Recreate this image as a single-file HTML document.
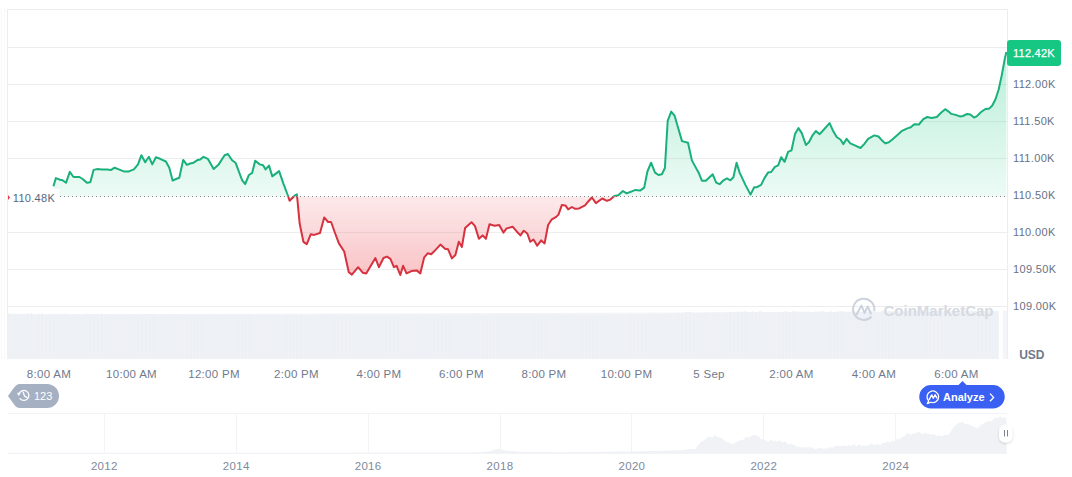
<!DOCTYPE html>
<html><head><meta charset="utf-8">
<style>
html,body{margin:0;padding:0;background:#fff;}
body{width:1072px;height:477px;overflow:hidden;position:relative;font-family:"Liberation Sans",Arial,sans-serif;}
svg{position:absolute;left:0;top:0;}
.yl text{font-size:11px;fill:#687184;letter-spacing:0.35px;}
.xl text{font-size:11.5px;fill:#717a8d;text-anchor:middle;letter-spacing:0.3px;}
.nl text{font-size:11.5px;fill:#808a9c;text-anchor:middle;letter-spacing:0.3px;}
</style></head><body>
<svg width="1072" height="477" viewBox="0 0 1072 477">
<defs>
<linearGradient id="gg" gradientUnits="userSpaceOnUse" x1="0" y1="52" x2="0" y2="196.5">
<stop offset="0" stop-color="#16c784" stop-opacity="0.3"/>
<stop offset="1" stop-color="#16c784" stop-opacity="0.08"/>
</linearGradient>
<linearGradient id="rg" gradientUnits="userSpaceOnUse" x1="0" y1="196.5" x2="0" y2="276">
<stop offset="0" stop-color="#ea3943" stop-opacity="0.11"/>
<stop offset="1" stop-color="#ea3943" stop-opacity="0.3"/>
</linearGradient>
<filter id="sh" x="-50%" y="-50%" width="200%" height="200%"><feDropShadow dx="0" dy="1" stdDeviation="1.2" flood-color="#000" flood-opacity="0.18"/></filter>
<clipPath id="cu"><rect x="0" y="0" width="1072" height="196.5"/></clipPath>
<clipPath id="cd"><rect x="0" y="196.5" width="1072" height="300"/></clipPath>
</defs>
<g stroke="#ededed" stroke-width="1" shape-rendering="crispEdges"><line x1="7" y1="9.5" x2="1008" y2="9.5"/><line x1="7" y1="47.5" x2="1008" y2="47.5"/><line x1="7" y1="84.5" x2="1008" y2="84.5"/><line x1="7" y1="121.5" x2="1008" y2="121.5"/><line x1="7" y1="158.5" x2="1008" y2="158.5"/><line x1="7" y1="232.5" x2="1008" y2="232.5"/><line x1="7" y1="269.5" x2="1008" y2="269.5"/><line x1="7" y1="306.5" x2="1008" y2="306.5"/>
<line x1="7.5" y1="9" x2="7.5" y2="359"/>
<line x1="1.5" y1="8" x2="1.5" y2="359" stroke="#f8f8f8"/>
<line x1="4.5" y1="8" x2="4.5" y2="359" stroke="#f8f8f8"/>
<line x1="1007.5" y1="9" x2="1007.5" y2="359"/>
</g>
<path d="M7.5,359 L7.5,314.6 L999,311.6 L999,359 Z" fill="#f2f4f7"/>
<g fill="#edf0f4"><rect x="7.50" y="313.5" width="3.1" height="45.5"/><rect x="11.20" y="313.9" width="3.1" height="45.1"/><rect x="14.90" y="313.7" width="3.1" height="45.3"/><rect x="18.60" y="313.9" width="3.1" height="45.1"/><rect x="22.30" y="314.0" width="3.1" height="45.0"/><rect x="26.00" y="313.4" width="3.1" height="45.6"/><rect x="29.70" y="313.4" width="3.1" height="45.6"/><rect x="33.40" y="314.2" width="3.1" height="44.8"/><rect x="37.10" y="313.7" width="3.1" height="45.3"/><rect x="40.80" y="313.6" width="3.1" height="45.4"/><rect x="44.50" y="314.4" width="3.1" height="44.6"/><rect x="48.20" y="313.9" width="3.1" height="45.1"/><rect x="51.90" y="314.3" width="3.1" height="44.7"/><rect x="55.60" y="313.9" width="3.1" height="45.1"/><rect x="59.30" y="314.1" width="3.1" height="44.9"/><rect x="63.00" y="313.6" width="3.1" height="45.4"/><rect x="66.70" y="314.1" width="3.1" height="44.9"/><rect x="70.40" y="314.4" width="3.1" height="44.6"/><rect x="74.10" y="314.1" width="3.1" height="44.9"/><rect x="77.80" y="314.3" width="3.1" height="44.7"/><rect x="81.50" y="314.2" width="3.1" height="44.8"/><rect x="85.20" y="313.6" width="3.1" height="45.4"/><rect x="88.90" y="314.3" width="3.1" height="44.7"/><rect x="92.60" y="314.2" width="3.1" height="44.8"/><rect x="96.30" y="313.9" width="3.1" height="45.1"/><rect x="100.00" y="313.6" width="3.1" height="45.4"/><rect x="103.70" y="314.5" width="3.1" height="44.5"/><rect x="107.40" y="314.1" width="3.1" height="44.9"/><rect x="111.10" y="314.4" width="3.1" height="44.6"/><rect x="114.80" y="314.5" width="3.1" height="44.5"/><rect x="118.50" y="314.4" width="3.1" height="44.6"/><rect x="122.20" y="314.6" width="3.1" height="44.4"/><rect x="125.90" y="314.1" width="3.1" height="44.9"/><rect x="129.60" y="314.5" width="3.1" height="44.5"/><rect x="133.30" y="314.2" width="3.1" height="44.8"/><rect x="137.00" y="314.7" width="3.1" height="44.3"/><rect x="140.70" y="314.6" width="3.1" height="44.4"/><rect x="144.40" y="313.9" width="3.1" height="45.1"/><rect x="148.10" y="313.9" width="3.1" height="45.1"/><rect x="151.80" y="314.0" width="3.1" height="45.0"/><rect x="155.50" y="314.8" width="3.1" height="44.2"/><rect x="159.20" y="314.3" width="3.1" height="44.7"/><rect x="162.90" y="314.5" width="3.1" height="44.5"/><rect x="166.60" y="314.1" width="3.1" height="44.9"/><rect x="170.30" y="314.4" width="3.1" height="44.6"/><rect x="174.00" y="314.3" width="3.1" height="44.7"/><rect x="177.70" y="314.2" width="3.1" height="44.8"/><rect x="181.40" y="314.5" width="3.1" height="44.5"/><rect x="185.10" y="314.5" width="3.1" height="44.5"/><rect x="188.80" y="314.8" width="3.1" height="44.2"/><rect x="192.50" y="314.6" width="3.1" height="44.4"/><rect x="196.20" y="314.9" width="3.1" height="44.1"/><rect x="199.90" y="314.8" width="3.1" height="44.2"/><rect x="203.60" y="315.0" width="3.1" height="44.0"/><rect x="207.30" y="314.7" width="3.1" height="44.3"/><rect x="211.00" y="314.2" width="3.1" height="44.8"/><rect x="214.70" y="314.9" width="3.1" height="44.1"/><rect x="218.40" y="315.0" width="3.1" height="44.0"/><rect x="222.10" y="314.9" width="3.1" height="44.1"/><rect x="225.80" y="314.6" width="3.1" height="44.4"/><rect x="229.50" y="314.8" width="3.1" height="44.2"/><rect x="233.20" y="314.3" width="3.1" height="44.7"/><rect x="236.90" y="314.9" width="3.1" height="44.1"/><rect x="240.60" y="314.7" width="3.1" height="44.3"/><rect x="244.30" y="314.4" width="3.1" height="44.6"/><rect x="248.00" y="314.2" width="3.1" height="44.8"/><rect x="251.70" y="315.0" width="3.1" height="44.0"/><rect x="255.40" y="315.1" width="3.1" height="43.9"/><rect x="259.10" y="314.2" width="3.1" height="44.8"/><rect x="262.80" y="315.0" width="3.1" height="44.0"/><rect x="266.50" y="314.6" width="3.1" height="44.4"/><rect x="270.20" y="314.3" width="3.1" height="44.7"/><rect x="273.90" y="314.5" width="3.1" height="44.5"/><rect x="277.60" y="315.0" width="3.1" height="44.0"/><rect x="281.30" y="315.1" width="3.1" height="43.9"/><rect x="285.00" y="314.3" width="3.1" height="44.7"/><rect x="288.70" y="314.9" width="3.1" height="44.1"/><rect x="292.40" y="314.3" width="3.1" height="44.7"/><rect x="296.10" y="315.0" width="3.1" height="44.0"/><rect x="299.80" y="314.6" width="3.1" height="44.4"/><rect x="303.50" y="315.2" width="3.1" height="43.8"/><rect x="307.20" y="315.3" width="3.1" height="43.7"/><rect x="310.90" y="314.8" width="3.1" height="44.2"/><rect x="314.60" y="315.3" width="3.1" height="43.7"/><rect x="318.30" y="314.6" width="3.1" height="44.4"/><rect x="322.00" y="314.3" width="3.1" height="44.7"/><rect x="325.70" y="314.9" width="3.1" height="44.1"/><rect x="329.40" y="314.3" width="3.1" height="44.7"/><rect x="333.10" y="314.4" width="3.1" height="44.6"/><rect x="336.80" y="314.7" width="3.1" height="44.3"/><rect x="340.50" y="314.8" width="3.1" height="44.2"/><rect x="344.20" y="314.4" width="3.1" height="44.6"/><rect x="347.90" y="314.3" width="3.1" height="44.7"/><rect x="351.60" y="315.1" width="3.1" height="43.9"/><rect x="355.30" y="314.5" width="3.1" height="44.5"/><rect x="359.00" y="315.2" width="3.1" height="43.8"/><rect x="362.70" y="315.1" width="3.1" height="43.9"/><rect x="366.40" y="314.6" width="3.1" height="44.4"/><rect x="370.10" y="314.7" width="3.1" height="44.3"/><rect x="373.80" y="314.7" width="3.1" height="44.3"/><rect x="377.50" y="314.8" width="3.1" height="44.2"/><rect x="381.20" y="314.8" width="3.1" height="44.2"/><rect x="384.90" y="314.7" width="3.1" height="44.3"/><rect x="388.60" y="314.8" width="3.1" height="44.2"/><rect x="392.30" y="315.1" width="3.1" height="43.9"/><rect x="396.00" y="314.7" width="3.1" height="44.3"/><rect x="399.70" y="314.6" width="3.1" height="44.4"/><rect x="403.40" y="314.9" width="3.1" height="44.1"/><rect x="407.10" y="314.4" width="3.1" height="44.6"/><rect x="410.80" y="314.4" width="3.1" height="44.6"/><rect x="414.50" y="315.1" width="3.1" height="43.9"/><rect x="418.20" y="314.6" width="3.1" height="44.4"/><rect x="421.90" y="314.7" width="3.1" height="44.3"/><rect x="425.60" y="314.1" width="3.1" height="44.9"/><rect x="429.30" y="314.5" width="3.1" height="44.5"/><rect x="433.00" y="314.7" width="3.1" height="44.3"/><rect x="436.70" y="314.1" width="3.1" height="44.9"/><rect x="440.40" y="314.7" width="3.1" height="44.3"/><rect x="444.10" y="314.7" width="3.1" height="44.3"/><rect x="447.80" y="314.1" width="3.1" height="44.9"/><rect x="451.50" y="314.7" width="3.1" height="44.3"/><rect x="455.20" y="314.5" width="3.1" height="44.5"/><rect x="458.90" y="314.7" width="3.1" height="44.3"/><rect x="462.60" y="314.4" width="3.1" height="44.6"/><rect x="466.30" y="314.8" width="3.1" height="44.2"/><rect x="470.00" y="314.8" width="3.1" height="44.2"/><rect x="473.70" y="314.1" width="3.1" height="44.9"/><rect x="477.40" y="314.1" width="3.1" height="44.9"/><rect x="481.10" y="314.7" width="3.1" height="44.3"/><rect x="484.80" y="315.0" width="3.1" height="44.0"/><rect x="488.50" y="314.3" width="3.1" height="44.7"/><rect x="492.20" y="314.5" width="3.1" height="44.5"/><rect x="495.90" y="314.6" width="3.1" height="44.4"/><rect x="499.60" y="314.3" width="3.1" height="44.7"/><rect x="503.30" y="314.4" width="3.1" height="44.6"/><rect x="507.00" y="314.3" width="3.1" height="44.7"/><rect x="510.70" y="314.4" width="3.1" height="44.6"/><rect x="514.40" y="314.6" width="3.1" height="44.4"/><rect x="518.10" y="314.3" width="3.1" height="44.7"/><rect x="521.80" y="314.4" width="3.1" height="44.6"/><rect x="525.50" y="314.8" width="3.1" height="44.2"/><rect x="529.20" y="314.0" width="3.1" height="45.0"/><rect x="532.90" y="314.6" width="3.1" height="44.4"/><rect x="536.60" y="314.7" width="3.1" height="44.3"/><rect x="540.30" y="314.3" width="3.1" height="44.7"/><rect x="544.00" y="314.2" width="3.1" height="44.8"/><rect x="547.70" y="314.8" width="3.1" height="44.2"/><rect x="551.40" y="314.2" width="3.1" height="44.8"/><rect x="555.10" y="314.2" width="3.1" height="44.8"/><rect x="558.80" y="314.4" width="3.1" height="44.6"/><rect x="562.50" y="314.7" width="3.1" height="44.3"/><rect x="566.20" y="314.1" width="3.1" height="44.9"/><rect x="569.90" y="314.3" width="3.1" height="44.7"/><rect x="573.60" y="314.3" width="3.1" height="44.7"/><rect x="577.30" y="314.8" width="3.1" height="44.2"/><rect x="581.00" y="314.4" width="3.1" height="44.6"/><rect x="584.70" y="314.9" width="3.1" height="44.1"/><rect x="588.40" y="314.2" width="3.1" height="44.8"/><rect x="592.10" y="314.3" width="3.1" height="44.7"/><rect x="595.80" y="314.7" width="3.1" height="44.3"/><rect x="599.50" y="314.9" width="3.1" height="44.1"/><rect x="603.20" y="314.5" width="3.1" height="44.5"/><rect x="606.90" y="314.2" width="3.1" height="44.8"/><rect x="610.60" y="314.1" width="3.1" height="44.9"/><rect x="614.30" y="314.5" width="3.1" height="44.5"/><rect x="618.00" y="314.2" width="3.1" height="44.8"/><rect x="621.70" y="314.8" width="3.1" height="44.2"/><rect x="625.40" y="314.8" width="3.1" height="44.2"/><rect x="629.10" y="314.2" width="3.1" height="44.8"/><rect x="632.80" y="314.3" width="3.1" height="44.7"/><rect x="636.50" y="314.8" width="3.1" height="44.2"/><rect x="640.20" y="314.6" width="3.1" height="44.4"/><rect x="643.90" y="314.8" width="3.1" height="44.2"/><rect x="647.60" y="314.3" width="3.1" height="44.7"/><rect x="651.30" y="314.1" width="3.1" height="44.9"/><rect x="655.00" y="314.3" width="3.1" height="44.7"/><rect x="658.70" y="314.8" width="3.1" height="44.2"/><rect x="662.40" y="314.0" width="3.1" height="45.0"/><rect x="666.10" y="313.7" width="3.1" height="45.3"/><rect x="669.80" y="313.4" width="3.1" height="45.6"/><rect x="673.50" y="313.1" width="3.1" height="45.9"/><rect x="677.20" y="312.7" width="3.1" height="46.3"/><rect x="680.90" y="312.9" width="3.1" height="46.1"/><rect x="684.60" y="312.1" width="3.1" height="46.9"/><rect x="688.30" y="311.9" width="3.1" height="47.1"/><rect x="692.00" y="312.8" width="3.1" height="46.2"/><rect x="695.70" y="312.7" width="3.1" height="46.3"/><rect x="699.40" y="312.8" width="3.1" height="46.2"/><rect x="703.10" y="312.2" width="3.1" height="46.8"/><rect x="706.80" y="312.7" width="3.1" height="46.3"/><rect x="710.50" y="312.6" width="3.1" height="46.4"/><rect x="714.20" y="311.9" width="3.1" height="47.1"/><rect x="717.90" y="312.4" width="3.1" height="46.6"/><rect x="721.60" y="312.4" width="3.1" height="46.6"/><rect x="725.30" y="312.2" width="3.1" height="46.8"/><rect x="729.00" y="312.0" width="3.1" height="47.0"/><rect x="732.70" y="311.8" width="3.1" height="47.2"/><rect x="736.40" y="311.8" width="3.1" height="47.2"/><rect x="740.10" y="311.6" width="3.1" height="47.4"/><rect x="743.80" y="311.4" width="3.1" height="47.6"/><rect x="747.50" y="311.9" width="3.1" height="47.1"/><rect x="751.20" y="311.6" width="3.1" height="47.4"/><rect x="754.90" y="312.1" width="3.1" height="46.9"/><rect x="758.60" y="311.3" width="3.1" height="47.7"/><rect x="762.30" y="312.2" width="3.1" height="46.8"/><rect x="766.00" y="311.9" width="3.1" height="47.1"/><rect x="769.70" y="312.1" width="3.1" height="46.9"/><rect x="773.40" y="312.1" width="3.1" height="46.9"/><rect x="777.10" y="312.1" width="3.1" height="46.9"/><rect x="780.80" y="311.8" width="3.1" height="47.2"/><rect x="784.50" y="311.2" width="3.1" height="47.8"/><rect x="788.20" y="311.9" width="3.1" height="47.1"/><rect x="791.90" y="311.3" width="3.1" height="47.7"/><rect x="795.60" y="311.4" width="3.1" height="47.6"/><rect x="799.30" y="311.8" width="3.1" height="47.2"/><rect x="803.00" y="311.6" width="3.1" height="47.4"/><rect x="806.70" y="311.5" width="3.1" height="47.5"/><rect x="810.40" y="312.0" width="3.1" height="47.0"/><rect x="814.10" y="311.7" width="3.1" height="47.3"/><rect x="817.80" y="311.4" width="3.1" height="47.6"/><rect x="821.50" y="311.3" width="3.1" height="47.7"/><rect x="825.20" y="311.9" width="3.1" height="47.1"/><rect x="828.90" y="311.5" width="3.1" height="47.5"/><rect x="832.60" y="311.8" width="3.1" height="47.2"/><rect x="836.30" y="311.3" width="3.1" height="47.7"/><rect x="840.00" y="311.1" width="3.1" height="47.9"/><rect x="843.70" y="311.5" width="3.1" height="47.5"/><rect x="847.40" y="311.7" width="3.1" height="47.3"/><rect x="851.10" y="311.1" width="3.1" height="47.9"/><rect x="854.80" y="311.7" width="3.1" height="47.3"/><rect x="858.50" y="311.8" width="3.1" height="47.2"/><rect x="862.20" y="311.7" width="3.1" height="47.3"/><rect x="865.90" y="311.7" width="3.1" height="47.3"/><rect x="869.60" y="310.8" width="3.1" height="48.2"/><rect x="873.30" y="311.4" width="3.1" height="47.6"/><rect x="877.00" y="311.7" width="3.1" height="47.3"/><rect x="880.70" y="310.8" width="3.1" height="48.2"/><rect x="884.40" y="311.0" width="3.1" height="48.0"/><rect x="888.10" y="311.0" width="3.1" height="48.0"/><rect x="891.80" y="311.3" width="3.1" height="47.7"/><rect x="895.50" y="311.1" width="3.1" height="47.9"/><rect x="899.20" y="311.2" width="3.1" height="47.8"/><rect x="902.90" y="311.5" width="3.1" height="47.5"/><rect x="906.60" y="310.7" width="3.1" height="48.3"/><rect x="910.30" y="310.7" width="3.1" height="48.3"/><rect x="914.00" y="310.8" width="3.1" height="48.2"/><rect x="917.70" y="310.8" width="3.1" height="48.2"/><rect x="921.40" y="310.7" width="3.1" height="48.3"/><rect x="925.10" y="311.6" width="3.1" height="47.4"/><rect x="928.80" y="311.4" width="3.1" height="47.6"/><rect x="932.50" y="310.7" width="3.1" height="48.3"/><rect x="936.20" y="311.1" width="3.1" height="47.9"/><rect x="939.90" y="310.9" width="3.1" height="48.1"/><rect x="943.60" y="310.8" width="3.1" height="48.2"/><rect x="947.30" y="310.9" width="3.1" height="48.1"/><rect x="951.00" y="311.1" width="3.1" height="47.9"/><rect x="954.70" y="311.1" width="3.1" height="47.9"/><rect x="958.40" y="310.8" width="3.1" height="48.2"/><rect x="962.10" y="310.6" width="3.1" height="48.4"/><rect x="965.80" y="310.8" width="3.1" height="48.2"/><rect x="969.50" y="310.5" width="3.1" height="48.5"/><rect x="973.20" y="311.0" width="3.1" height="48.0"/><rect x="976.90" y="311.1" width="3.1" height="47.9"/><rect x="980.60" y="310.8" width="3.1" height="48.2"/><rect x="984.30" y="310.4" width="3.1" height="48.6"/><rect x="988.00" y="310.5" width="3.1" height="48.5"/><rect x="991.70" y="310.7" width="3.1" height="48.3"/><rect x="995.40" y="310.9" width="3.1" height="48.1"/><rect x="1002.7" y="310.5" width="4.5" height="48.5" fill="#f3f5f8"/></g>
<path d="M53.4,186.2 L55.9,178.1 L60.1,179.8 L62.6,180.3 L66.0,182.8 L69.8,171.9 L73.5,177.0 L79.4,177.0 L82.7,179.0 L86.9,182.8 L90.3,182.3 L93.6,169.9 L97.0,169.1 L102.0,169.6 L107.0,169.6 L111.2,169.9 L114.6,167.7 L118.8,169.4 L123.8,171.4 L128.8,171.4 L133.9,169.4 L138.0,164.4 L141.4,155.2 L145.2,162.2 L148.9,156.8 L152.3,164.4 L155.9,157.3 L160.1,158.8 L165.9,161.5 L169.3,167.7 L172.6,180.6 L176.0,179.0 L179.3,177.8 L183.2,159.9 L186.9,164.9 L190.2,163.5 L193.6,162.7 L197.8,159.9 L200.3,159.4 L203.6,156.8 L207.8,158.8 L213.7,168.9 L218.7,164.4 L224.6,155.2 L227.9,154.0 L232.1,160.2 L235.5,162.7 L242.2,180.3 L245.2,184.0 L248.9,175.0 L252.2,172.8 L255.2,160.7 L259.8,164.4 L263.1,165.2 L265.6,169.4 L269.0,165.6 L272.3,176.4 L279.1,171.1 L283.5,183.8 L287.9,195.5 L289.6,200.8 L294.6,195.7 L296.9,194.3 L299.7,223.8 L303.4,241.8 L306.8,244.1 L310.8,234.2 L314.2,234.9 L320.0,233.0 L324.2,217.4 L328.1,222.0 L331.1,222.0 L335.0,233.0 L338.9,243.4 L344.2,251.5 L348.8,272.2 L351.9,274.6 L358.1,267.2 L362.7,272.7 L366.2,273.4 L375.4,258.0 L378.9,267.2 L383.5,258.0 L386.9,256.6 L390.4,258.9 L393.9,267.2 L396.6,265.8 L400.3,275.0 L403.1,265.8 L406.5,273.4 L411.5,271.1 L416.6,270.4 L420.3,273.4 L424.2,257.3 L427.7,253.3 L431.2,254.3 L435.8,249.6 L440.4,244.6 L445.0,248.7 L448.0,249.2 L451.9,258.4 L455.4,255.0 L458.8,241.8 L461.9,246.9 L465.1,228.0 L471.5,222.2 L475.0,226.1 L478.9,238.8 L482.6,235.4 L485.9,238.8 L489.5,224.3 L494.6,225.7 L499.2,225.0 L503.4,232.6 L506.6,228.4 L512.8,226.8 L516.5,231.2 L520.4,235.4 L523.8,230.7 L527.3,233.5 L530.3,241.8 L533.5,239.5 L537.2,245.7 L541.2,240.4 L544.6,243.4 L548.1,225.0 L551.5,219.7 L556.2,216.9 L558.5,214.6 L561.9,204.9 L565.4,205.4 L568.2,209.3 L571.9,207.0 L575.1,208.8 L579.2,208.4 L585.0,205.4 L588.5,201.2 L591.9,197.5 L595.9,203.1 L602.3,198.5 L606.9,200.8 L610.4,199.6 L614.3,196.1 L618.3,195.3 L622.9,191.0 L626.6,193.4 L630.8,191.8 L635.4,189.9 L640.0,190.6 L644.2,187.6 L647.4,171.5 L651.1,162.7 L655.0,172.6 L658.5,175.0 L661.9,174.3 L664.9,168.0 L667.7,120.8 L671.2,111.6 L674.6,115.7 L678.1,127.7 L682.0,141.1 L688.0,142.7 L691.9,160.4 L695.4,166.9 L698.9,173.3 L701.9,180.7 L705.8,180.7 L712.7,174.3 L716.2,182.6 L719.6,184.2 L723.5,180.3 L726.9,178.4 L730.4,180.3 L733.4,177.3 L736.6,162.7 L739.6,172.6 L745.4,184.9 L750.5,194.6 L754.2,187.2 L756.9,187.2 L761.1,184.9 L764.3,178.4 L768.0,172.6 L771.2,172.0 L774.9,166.9 L778.2,165.3 L781.2,157.2 L784.6,161.8 L788.1,151.9 L791.5,150.3 L795.0,134.1 L798.5,128.1 L801.9,133.4 L805.9,145.0 L808.9,142.2 L812.3,135.7 L815.8,131.1 L819.7,134.1 L823.9,129.5 L829.6,123.1 L833.3,131.3 L836.7,137.0 L840.4,139.5 L843.4,144.1 L846.6,138.8 L850.3,143.4 L855.4,145.7 L860.5,148.0 L864.2,144.1 L868.1,138.8 L874.3,135.4 L878.5,136.5 L882.6,141.1 L885.4,143.4 L888.8,142.3 L892.3,139.5 L896.9,135.4 L901.5,131.2 L907.3,128.4 L910.8,127.3 L914.2,124.3 L918.9,124.5 L923.3,119.1 L927.3,117.0 L931.5,118.0 L936.8,117.0 L941.0,112.8 L945.2,109.2 L948.3,111.3 L951.4,113.9 L955.6,114.9 L959.8,116.4 L963.0,116.0 L967.2,113.9 L970.3,114.5 L974.1,117.6 L976.6,116.4 L980.8,112.2 L985.0,109.2 L989.2,108.6 L992.3,105.5 L995.5,99.2 L998.6,89.7 L1001.8,75.1 L1004.9,58.3 L1006.4,52.0 L1006.4,196.5 L53.4,196.5 Z" fill="url(#gg)" clip-path="url(#cu)"/>
<path d="M53.4,186.2 L55.9,178.1 L60.1,179.8 L62.6,180.3 L66.0,182.8 L69.8,171.9 L73.5,177.0 L79.4,177.0 L82.7,179.0 L86.9,182.8 L90.3,182.3 L93.6,169.9 L97.0,169.1 L102.0,169.6 L107.0,169.6 L111.2,169.9 L114.6,167.7 L118.8,169.4 L123.8,171.4 L128.8,171.4 L133.9,169.4 L138.0,164.4 L141.4,155.2 L145.2,162.2 L148.9,156.8 L152.3,164.4 L155.9,157.3 L160.1,158.8 L165.9,161.5 L169.3,167.7 L172.6,180.6 L176.0,179.0 L179.3,177.8 L183.2,159.9 L186.9,164.9 L190.2,163.5 L193.6,162.7 L197.8,159.9 L200.3,159.4 L203.6,156.8 L207.8,158.8 L213.7,168.9 L218.7,164.4 L224.6,155.2 L227.9,154.0 L232.1,160.2 L235.5,162.7 L242.2,180.3 L245.2,184.0 L248.9,175.0 L252.2,172.8 L255.2,160.7 L259.8,164.4 L263.1,165.2 L265.6,169.4 L269.0,165.6 L272.3,176.4 L279.1,171.1 L283.5,183.8 L287.9,195.5 L289.6,200.8 L294.6,195.7 L296.9,194.3 L299.7,223.8 L303.4,241.8 L306.8,244.1 L310.8,234.2 L314.2,234.9 L320.0,233.0 L324.2,217.4 L328.1,222.0 L331.1,222.0 L335.0,233.0 L338.9,243.4 L344.2,251.5 L348.8,272.2 L351.9,274.6 L358.1,267.2 L362.7,272.7 L366.2,273.4 L375.4,258.0 L378.9,267.2 L383.5,258.0 L386.9,256.6 L390.4,258.9 L393.9,267.2 L396.6,265.8 L400.3,275.0 L403.1,265.8 L406.5,273.4 L411.5,271.1 L416.6,270.4 L420.3,273.4 L424.2,257.3 L427.7,253.3 L431.2,254.3 L435.8,249.6 L440.4,244.6 L445.0,248.7 L448.0,249.2 L451.9,258.4 L455.4,255.0 L458.8,241.8 L461.9,246.9 L465.1,228.0 L471.5,222.2 L475.0,226.1 L478.9,238.8 L482.6,235.4 L485.9,238.8 L489.5,224.3 L494.6,225.7 L499.2,225.0 L503.4,232.6 L506.6,228.4 L512.8,226.8 L516.5,231.2 L520.4,235.4 L523.8,230.7 L527.3,233.5 L530.3,241.8 L533.5,239.5 L537.2,245.7 L541.2,240.4 L544.6,243.4 L548.1,225.0 L551.5,219.7 L556.2,216.9 L558.5,214.6 L561.9,204.9 L565.4,205.4 L568.2,209.3 L571.9,207.0 L575.1,208.8 L579.2,208.4 L585.0,205.4 L588.5,201.2 L591.9,197.5 L595.9,203.1 L602.3,198.5 L606.9,200.8 L610.4,199.6 L614.3,196.1 L618.3,195.3 L622.9,191.0 L626.6,193.4 L630.8,191.8 L635.4,189.9 L640.0,190.6 L644.2,187.6 L647.4,171.5 L651.1,162.7 L655.0,172.6 L658.5,175.0 L661.9,174.3 L664.9,168.0 L667.7,120.8 L671.2,111.6 L674.6,115.7 L678.1,127.7 L682.0,141.1 L688.0,142.7 L691.9,160.4 L695.4,166.9 L698.9,173.3 L701.9,180.7 L705.8,180.7 L712.7,174.3 L716.2,182.6 L719.6,184.2 L723.5,180.3 L726.9,178.4 L730.4,180.3 L733.4,177.3 L736.6,162.7 L739.6,172.6 L745.4,184.9 L750.5,194.6 L754.2,187.2 L756.9,187.2 L761.1,184.9 L764.3,178.4 L768.0,172.6 L771.2,172.0 L774.9,166.9 L778.2,165.3 L781.2,157.2 L784.6,161.8 L788.1,151.9 L791.5,150.3 L795.0,134.1 L798.5,128.1 L801.9,133.4 L805.9,145.0 L808.9,142.2 L812.3,135.7 L815.8,131.1 L819.7,134.1 L823.9,129.5 L829.6,123.1 L833.3,131.3 L836.7,137.0 L840.4,139.5 L843.4,144.1 L846.6,138.8 L850.3,143.4 L855.4,145.7 L860.5,148.0 L864.2,144.1 L868.1,138.8 L874.3,135.4 L878.5,136.5 L882.6,141.1 L885.4,143.4 L888.8,142.3 L892.3,139.5 L896.9,135.4 L901.5,131.2 L907.3,128.4 L910.8,127.3 L914.2,124.3 L918.9,124.5 L923.3,119.1 L927.3,117.0 L931.5,118.0 L936.8,117.0 L941.0,112.8 L945.2,109.2 L948.3,111.3 L951.4,113.9 L955.6,114.9 L959.8,116.4 L963.0,116.0 L967.2,113.9 L970.3,114.5 L974.1,117.6 L976.6,116.4 L980.8,112.2 L985.0,109.2 L989.2,108.6 L992.3,105.5 L995.5,99.2 L998.6,89.7 L1001.8,75.1 L1004.9,58.3 L1006.4,52.0 L1006.4,196.5 L53.4,196.5 Z" fill="url(#rg)" clip-path="url(#cd)"/>
<line x1="12" y1="196.5" x2="1006" y2="196.5" stroke="#7f828b" stroke-width="1" stroke-dasharray="1 3"/>
<path d="M53.4,186.2 L55.9,178.1 L60.1,179.8 L62.6,180.3 L66.0,182.8 L69.8,171.9 L73.5,177.0 L79.4,177.0 L82.7,179.0 L86.9,182.8 L90.3,182.3 L93.6,169.9 L97.0,169.1 L102.0,169.6 L107.0,169.6 L111.2,169.9 L114.6,167.7 L118.8,169.4 L123.8,171.4 L128.8,171.4 L133.9,169.4 L138.0,164.4 L141.4,155.2 L145.2,162.2 L148.9,156.8 L152.3,164.4 L155.9,157.3 L160.1,158.8 L165.9,161.5 L169.3,167.7 L172.6,180.6 L176.0,179.0 L179.3,177.8 L183.2,159.9 L186.9,164.9 L190.2,163.5 L193.6,162.7 L197.8,159.9 L200.3,159.4 L203.6,156.8 L207.8,158.8 L213.7,168.9 L218.7,164.4 L224.6,155.2 L227.9,154.0 L232.1,160.2 L235.5,162.7 L242.2,180.3 L245.2,184.0 L248.9,175.0 L252.2,172.8 L255.2,160.7 L259.8,164.4 L263.1,165.2 L265.6,169.4 L269.0,165.6 L272.3,176.4 L279.1,171.1 L283.5,183.8 L287.9,195.5 L289.6,200.8 L294.6,195.7 L296.9,194.3 L299.7,223.8 L303.4,241.8 L306.8,244.1 L310.8,234.2 L314.2,234.9 L320.0,233.0 L324.2,217.4 L328.1,222.0 L331.1,222.0 L335.0,233.0 L338.9,243.4 L344.2,251.5 L348.8,272.2 L351.9,274.6 L358.1,267.2 L362.7,272.7 L366.2,273.4 L375.4,258.0 L378.9,267.2 L383.5,258.0 L386.9,256.6 L390.4,258.9 L393.9,267.2 L396.6,265.8 L400.3,275.0 L403.1,265.8 L406.5,273.4 L411.5,271.1 L416.6,270.4 L420.3,273.4 L424.2,257.3 L427.7,253.3 L431.2,254.3 L435.8,249.6 L440.4,244.6 L445.0,248.7 L448.0,249.2 L451.9,258.4 L455.4,255.0 L458.8,241.8 L461.9,246.9 L465.1,228.0 L471.5,222.2 L475.0,226.1 L478.9,238.8 L482.6,235.4 L485.9,238.8 L489.5,224.3 L494.6,225.7 L499.2,225.0 L503.4,232.6 L506.6,228.4 L512.8,226.8 L516.5,231.2 L520.4,235.4 L523.8,230.7 L527.3,233.5 L530.3,241.8 L533.5,239.5 L537.2,245.7 L541.2,240.4 L544.6,243.4 L548.1,225.0 L551.5,219.7 L556.2,216.9 L558.5,214.6 L561.9,204.9 L565.4,205.4 L568.2,209.3 L571.9,207.0 L575.1,208.8 L579.2,208.4 L585.0,205.4 L588.5,201.2 L591.9,197.5 L595.9,203.1 L602.3,198.5 L606.9,200.8 L610.4,199.6 L614.3,196.1 L618.3,195.3 L622.9,191.0 L626.6,193.4 L630.8,191.8 L635.4,189.9 L640.0,190.6 L644.2,187.6 L647.4,171.5 L651.1,162.7 L655.0,172.6 L658.5,175.0 L661.9,174.3 L664.9,168.0 L667.7,120.8 L671.2,111.6 L674.6,115.7 L678.1,127.7 L682.0,141.1 L688.0,142.7 L691.9,160.4 L695.4,166.9 L698.9,173.3 L701.9,180.7 L705.8,180.7 L712.7,174.3 L716.2,182.6 L719.6,184.2 L723.5,180.3 L726.9,178.4 L730.4,180.3 L733.4,177.3 L736.6,162.7 L739.6,172.6 L745.4,184.9 L750.5,194.6 L754.2,187.2 L756.9,187.2 L761.1,184.9 L764.3,178.4 L768.0,172.6 L771.2,172.0 L774.9,166.9 L778.2,165.3 L781.2,157.2 L784.6,161.8 L788.1,151.9 L791.5,150.3 L795.0,134.1 L798.5,128.1 L801.9,133.4 L805.9,145.0 L808.9,142.2 L812.3,135.7 L815.8,131.1 L819.7,134.1 L823.9,129.5 L829.6,123.1 L833.3,131.3 L836.7,137.0 L840.4,139.5 L843.4,144.1 L846.6,138.8 L850.3,143.4 L855.4,145.7 L860.5,148.0 L864.2,144.1 L868.1,138.8 L874.3,135.4 L878.5,136.5 L882.6,141.1 L885.4,143.4 L888.8,142.3 L892.3,139.5 L896.9,135.4 L901.5,131.2 L907.3,128.4 L910.8,127.3 L914.2,124.3 L918.9,124.5 L923.3,119.1 L927.3,117.0 L931.5,118.0 L936.8,117.0 L941.0,112.8 L945.2,109.2 L948.3,111.3 L951.4,113.9 L955.6,114.9 L959.8,116.4 L963.0,116.0 L967.2,113.9 L970.3,114.5 L974.1,117.6 L976.6,116.4 L980.8,112.2 L985.0,109.2 L989.2,108.6 L992.3,105.5 L995.5,99.2 L998.6,89.7 L1001.8,75.1 L1004.9,58.3 L1006.4,52.0" fill="none" stroke="#1ab07b" stroke-width="2" stroke-linejoin="round" clip-path="url(#cu)"/>
<path d="M53.4,186.2 L55.9,178.1 L60.1,179.8 L62.6,180.3 L66.0,182.8 L69.8,171.9 L73.5,177.0 L79.4,177.0 L82.7,179.0 L86.9,182.8 L90.3,182.3 L93.6,169.9 L97.0,169.1 L102.0,169.6 L107.0,169.6 L111.2,169.9 L114.6,167.7 L118.8,169.4 L123.8,171.4 L128.8,171.4 L133.9,169.4 L138.0,164.4 L141.4,155.2 L145.2,162.2 L148.9,156.8 L152.3,164.4 L155.9,157.3 L160.1,158.8 L165.9,161.5 L169.3,167.7 L172.6,180.6 L176.0,179.0 L179.3,177.8 L183.2,159.9 L186.9,164.9 L190.2,163.5 L193.6,162.7 L197.8,159.9 L200.3,159.4 L203.6,156.8 L207.8,158.8 L213.7,168.9 L218.7,164.4 L224.6,155.2 L227.9,154.0 L232.1,160.2 L235.5,162.7 L242.2,180.3 L245.2,184.0 L248.9,175.0 L252.2,172.8 L255.2,160.7 L259.8,164.4 L263.1,165.2 L265.6,169.4 L269.0,165.6 L272.3,176.4 L279.1,171.1 L283.5,183.8 L287.9,195.5 L289.6,200.8 L294.6,195.7 L296.9,194.3 L299.7,223.8 L303.4,241.8 L306.8,244.1 L310.8,234.2 L314.2,234.9 L320.0,233.0 L324.2,217.4 L328.1,222.0 L331.1,222.0 L335.0,233.0 L338.9,243.4 L344.2,251.5 L348.8,272.2 L351.9,274.6 L358.1,267.2 L362.7,272.7 L366.2,273.4 L375.4,258.0 L378.9,267.2 L383.5,258.0 L386.9,256.6 L390.4,258.9 L393.9,267.2 L396.6,265.8 L400.3,275.0 L403.1,265.8 L406.5,273.4 L411.5,271.1 L416.6,270.4 L420.3,273.4 L424.2,257.3 L427.7,253.3 L431.2,254.3 L435.8,249.6 L440.4,244.6 L445.0,248.7 L448.0,249.2 L451.9,258.4 L455.4,255.0 L458.8,241.8 L461.9,246.9 L465.1,228.0 L471.5,222.2 L475.0,226.1 L478.9,238.8 L482.6,235.4 L485.9,238.8 L489.5,224.3 L494.6,225.7 L499.2,225.0 L503.4,232.6 L506.6,228.4 L512.8,226.8 L516.5,231.2 L520.4,235.4 L523.8,230.7 L527.3,233.5 L530.3,241.8 L533.5,239.5 L537.2,245.7 L541.2,240.4 L544.6,243.4 L548.1,225.0 L551.5,219.7 L556.2,216.9 L558.5,214.6 L561.9,204.9 L565.4,205.4 L568.2,209.3 L571.9,207.0 L575.1,208.8 L579.2,208.4 L585.0,205.4 L588.5,201.2 L591.9,197.5 L595.9,203.1 L602.3,198.5 L606.9,200.8 L610.4,199.6 L614.3,196.1 L618.3,195.3 L622.9,191.0 L626.6,193.4 L630.8,191.8 L635.4,189.9 L640.0,190.6 L644.2,187.6 L647.4,171.5 L651.1,162.7 L655.0,172.6 L658.5,175.0 L661.9,174.3 L664.9,168.0 L667.7,120.8 L671.2,111.6 L674.6,115.7 L678.1,127.7 L682.0,141.1 L688.0,142.7 L691.9,160.4 L695.4,166.9 L698.9,173.3 L701.9,180.7 L705.8,180.7 L712.7,174.3 L716.2,182.6 L719.6,184.2 L723.5,180.3 L726.9,178.4 L730.4,180.3 L733.4,177.3 L736.6,162.7 L739.6,172.6 L745.4,184.9 L750.5,194.6 L754.2,187.2 L756.9,187.2 L761.1,184.9 L764.3,178.4 L768.0,172.6 L771.2,172.0 L774.9,166.9 L778.2,165.3 L781.2,157.2 L784.6,161.8 L788.1,151.9 L791.5,150.3 L795.0,134.1 L798.5,128.1 L801.9,133.4 L805.9,145.0 L808.9,142.2 L812.3,135.7 L815.8,131.1 L819.7,134.1 L823.9,129.5 L829.6,123.1 L833.3,131.3 L836.7,137.0 L840.4,139.5 L843.4,144.1 L846.6,138.8 L850.3,143.4 L855.4,145.7 L860.5,148.0 L864.2,144.1 L868.1,138.8 L874.3,135.4 L878.5,136.5 L882.6,141.1 L885.4,143.4 L888.8,142.3 L892.3,139.5 L896.9,135.4 L901.5,131.2 L907.3,128.4 L910.8,127.3 L914.2,124.3 L918.9,124.5 L923.3,119.1 L927.3,117.0 L931.5,118.0 L936.8,117.0 L941.0,112.8 L945.2,109.2 L948.3,111.3 L951.4,113.9 L955.6,114.9 L959.8,116.4 L963.0,116.0 L967.2,113.9 L970.3,114.5 L974.1,117.6 L976.6,116.4 L980.8,112.2 L985.0,109.2 L989.2,108.6 L992.3,105.5 L995.5,99.2 L998.6,89.7 L1001.8,75.1 L1004.9,58.3 L1006.4,52.0" fill="none" stroke="#d6323f" stroke-width="2" stroke-linejoin="round" clip-path="url(#cd)"/>
<!-- watermark -->
<g>
<path d="M871.5,316.5 A10.6,10.6 0 1 1 874.2,311" fill="none" stroke="#cdd3dd" stroke-width="2"/>
<path d="M856.5,314.5 L861.5,305.5 L864.5,313 L867.8,306.5 L870.8,313.5" fill="none" stroke="#cdd3dd" stroke-width="2" stroke-linejoin="round" stroke-linecap="round"/>
<text x="883.5" y="316" font-size="15" font-weight="bold" fill="#d6dae2" letter-spacing="0">CoinMarketCap</text>
</g>
<g class="yl"><text x="1013" y="88">112.00K</text><text x="1013" y="125">111.50K</text><text x="1013" y="162">111.00K</text><text x="1013" y="199">110.50K</text><text x="1013" y="236">110.00K</text><text x="1013" y="273">109.50K</text><text x="1013" y="310">109.00K</text></g>
<text x="1019.2" y="359" font-size="12" font-weight="bold" fill="#6f788a">USD</text>
<g class="xl"><text x="49.0" y="378">8:00 AM</text><text x="131.5" y="378">10:00 AM</text><text x="214.0" y="378">12:00 PM</text><text x="296.5" y="378">2:00 PM</text><text x="379.0" y="378">4:00 PM</text><text x="461.5" y="378">6:00 PM</text><text x="544.0" y="378">8:00 PM</text><text x="626.5" y="378">10:00 PM</text><text x="709.0" y="378">5 Sep</text><text x="791.5" y="378">2:00 AM</text><text x="874.0" y="378">4:00 AM</text><text x="956.5" y="378">6:00 AM</text></g>
<!-- last price badge -->
<rect x="1007" y="40" width="54" height="26" rx="3" fill="#16c784"/>
<text x="1013" y="57" font-size="11" fill="#fff" stroke="#fff" stroke-width="0.25" letter-spacing="0.25">112.42K</text>
<!-- left label -->
<rect x="10" y="189" width="49.5" height="15" fill="#fff"/>
<text x="12.8" y="202" font-size="11" fill="#58667e" letter-spacing="0.3">110.48K</text>
<path d="M8,195 L10,197.5 L8,200 Z" fill="#ea3943"/>
<!-- navigator -->
<g stroke="#f2f3f6" stroke-width="1" shape-rendering="crispEdges">
<line x1="8" y1="413.5" x2="1007" y2="413.5"/>
<line x1="8" y1="453.5" x2="1007" y2="453.5"/>
<line x1="104.3" y1="414" x2="104.3" y2="453"/><line x1="236.2" y1="414" x2="236.2" y2="453"/><line x1="368.1" y1="414" x2="368.1" y2="453"/><line x1="500.0" y1="414" x2="500.0" y2="453"/><line x1="631.9" y1="414" x2="631.9" y2="453"/><line x1="763.8" y1="414" x2="763.8" y2="453"/><line x1="895.7" y1="414" x2="895.7" y2="453"/>
</g>
<path d="M8.0,452.8 L9.3,452.8 L10.6,452.8 L11.9,452.8 L13.2,452.8 L14.5,452.8 L15.8,452.8 L17.1,452.8 L18.4,452.8 L19.7,452.8 L21.0,452.8 L22.3,452.8 L23.6,452.8 L24.9,452.8 L26.2,452.8 L27.5,452.8 L28.8,452.8 L30.1,452.8 L31.4,452.8 L32.7,452.8 L34.0,452.8 L35.3,452.8 L36.6,452.8 L37.9,452.8 L39.2,452.8 L40.5,452.8 L41.8,452.8 L43.1,452.8 L44.4,452.8 L45.7,452.8 L47.0,452.8 L48.3,452.8 L49.6,452.8 L50.9,452.8 L52.2,452.8 L53.5,452.8 L54.9,452.8 L56.2,452.8 L57.5,452.8 L58.8,452.8 L60.1,452.8 L61.4,452.8 L62.7,452.8 L64.0,452.8 L65.3,452.8 L66.6,452.8 L67.9,452.8 L69.2,452.8 L70.5,452.8 L71.8,452.8 L73.1,452.8 L74.4,452.8 L75.7,452.8 L77.0,452.8 L78.3,452.8 L79.6,452.8 L80.9,452.8 L82.2,452.8 L83.5,452.8 L84.8,452.8 L86.1,452.8 L87.4,452.8 L88.7,452.8 L90.0,452.8 L91.3,452.8 L92.6,452.8 L93.9,452.8 L95.2,452.8 L96.5,452.8 L97.8,452.8 L99.1,452.8 L100.4,452.8 L101.7,452.8 L103.0,452.8 L104.3,452.8 L105.6,452.8 L106.9,452.8 L108.2,452.8 L109.5,452.8 L110.8,452.8 L112.1,452.8 L113.4,452.8 L114.7,452.8 L116.0,452.8 L117.3,452.8 L118.6,452.8 L119.9,452.8 L121.2,452.8 L122.5,452.8 L123.8,452.7 L125.1,452.7 L126.4,452.7 L127.7,452.7 L129.0,452.7 L130.3,452.7 L131.6,452.7 L132.9,452.7 L134.2,452.7 L135.5,452.7 L136.8,452.7 L138.1,452.7 L139.4,452.7 L140.7,452.7 L142.0,452.7 L143.3,452.7 L144.6,452.7 L145.9,452.7 L147.3,452.7 L148.6,452.7 L149.9,452.7 L151.2,452.7 L152.5,452.7 L153.8,452.7 L155.1,452.7 L156.4,452.7 L157.7,452.7 L159.0,452.7 L160.3,452.7 L161.6,452.7 L162.9,452.7 L164.2,452.7 L165.5,452.7 L166.8,452.7 L168.1,452.7 L169.4,452.7 L170.7,452.7 L172.0,452.7 L173.3,452.7 L174.6,452.7 L175.9,452.7 L177.2,452.7 L178.5,452.7 L179.8,452.7 L181.1,452.7 L182.4,452.7 L183.7,452.7 L185.0,452.7 L186.3,452.7 L187.6,452.7 L188.9,452.7 L190.2,452.7 L191.5,452.7 L192.8,452.7 L194.1,452.7 L195.4,452.7 L196.7,452.7 L198.0,452.7 L199.3,452.7 L200.6,452.7 L201.9,452.7 L203.2,452.7 L204.5,452.7 L205.8,452.7 L207.1,452.7 L208.4,452.7 L209.7,452.7 L211.0,452.7 L212.3,452.7 L213.6,452.7 L214.9,452.7 L216.2,452.7 L217.5,452.7 L218.8,452.7 L220.1,452.7 L221.4,452.7 L222.7,452.7 L224.0,452.7 L225.3,452.7 L226.6,452.7 L227.9,452.7 L229.2,452.7 L230.5,452.7 L231.8,452.7 L233.1,452.7 L234.4,452.7 L235.7,452.7 L237.0,452.7 L238.3,452.7 L239.7,452.7 L241.0,452.7 L242.3,452.7 L243.6,452.7 L244.9,452.7 L246.2,452.7 L247.5,452.7 L248.8,452.7 L250.1,452.7 L251.4,452.7 L252.7,452.7 L254.0,452.7 L255.3,452.7 L256.6,452.7 L257.9,452.7 L259.2,452.7 L260.5,452.7 L261.8,452.7 L263.1,452.7 L264.4,452.7 L265.7,452.7 L267.0,452.7 L268.3,452.7 L269.6,452.7 L270.9,452.7 L272.2,452.7 L273.5,452.7 L274.8,452.7 L276.1,452.7 L277.4,452.7 L278.7,452.7 L280.0,452.7 L281.3,452.7 L282.6,452.7 L283.9,452.7 L285.2,452.7 L286.5,452.7 L287.8,452.7 L289.1,452.7 L290.4,452.7 L291.7,452.7 L293.0,452.7 L294.3,452.7 L295.6,452.7 L296.9,452.7 L298.2,452.7 L299.5,452.7 L300.8,452.7 L302.1,452.7 L303.4,452.7 L304.7,452.7 L306.0,452.7 L307.3,452.7 L308.6,452.7 L309.9,452.7 L311.2,452.7 L312.5,452.7 L313.8,452.7 L315.1,452.7 L316.4,452.7 L317.7,452.7 L319.0,452.7 L320.3,452.7 L321.6,452.7 L322.9,452.7 L324.2,452.7 L325.5,452.7 L326.8,452.7 L328.1,452.7 L329.4,452.7 L330.7,452.7 L332.1,452.7 L333.4,452.7 L334.7,452.7 L336.0,452.7 L337.3,452.7 L338.6,452.7 L339.9,452.7 L341.2,452.7 L342.5,452.7 L343.8,452.7 L345.1,452.7 L346.4,452.7 L347.7,452.7 L349.0,452.7 L350.3,452.7 L351.6,452.7 L352.9,452.7 L354.2,452.7 L355.5,452.6 L356.8,452.6 L358.1,452.6 L359.4,452.6 L360.7,452.6 L362.0,452.6 L363.3,452.6 L364.6,452.6 L365.9,452.6 L367.2,452.6 L368.5,452.6 L369.8,452.6 L371.1,452.6 L372.4,452.6 L373.7,452.6 L375.0,452.6 L376.3,452.6 L377.6,452.6 L378.9,452.6 L380.2,452.6 L381.5,452.6 L382.8,452.6 L384.1,452.6 L385.4,452.6 L386.7,452.6 L388.0,452.6 L389.3,452.6 L390.6,452.6 L391.9,452.6 L393.2,452.6 L394.5,452.6 L395.8,452.6 L397.1,452.6 L398.4,452.6 L399.7,452.6 L401.0,452.6 L402.3,452.6 L403.6,452.6 L404.9,452.6 L406.2,452.6 L407.5,452.6 L408.8,452.6 L410.1,452.6 L411.4,452.6 L412.7,452.6 L414.0,452.6 L415.3,452.6 L416.6,452.6 L417.9,452.6 L419.2,452.6 L420.5,452.6 L421.8,452.6 L423.1,452.6 L424.5,452.6 L425.8,452.6 L427.1,452.6 L428.4,452.6 L429.7,452.6 L431.0,452.6 L432.3,452.6 L433.6,452.6 L434.9,452.6 L436.2,452.6 L437.5,452.6 L438.8,452.6 L440.1,452.6 L441.4,452.6 L442.7,452.6 L444.0,452.6 L445.3,452.6 L446.6,452.6 L447.9,452.6 L449.2,452.6 L450.5,452.6 L451.8,452.6 L453.1,452.6 L454.4,452.6 L455.7,452.6 L457.0,452.6 L458.3,452.6 L459.6,452.6 L460.9,452.6 L462.2,452.6 L463.5,452.6 L464.8,452.6 L466.1,452.6 L467.4,452.6 L468.7,452.6 L470.0,452.6 L471.3,452.5 L472.7,452.5 L474.0,452.4 L475.3,452.3 L476.7,452.2 L478.0,452.2 L479.3,452.1 L480.7,452.0 L482.0,451.9 L483.3,451.9 L484.7,451.8 L486.0,451.7 L487.3,451.6 L488.7,451.6 L490.0,451.5 L491.3,451.0 L492.7,450.6 L494.0,450.1 L495.3,449.6 L496.7,449.2 L498.0,448.7 L499.4,449.1 L500.8,449.4 L502.2,449.8 L503.6,450.1 L505.0,450.5 L506.4,450.6 L507.7,450.7 L509.1,450.9 L510.5,451.0 L511.8,451.1 L513.2,451.2 L514.5,451.3 L515.9,451.4 L517.3,451.6 L518.6,451.7 L520.0,451.8 L521.3,451.8 L522.7,451.8 L524.0,451.8 L525.3,451.9 L526.7,451.9 L528.0,451.9 L529.3,451.9 L530.7,451.9 L532.0,451.9 L533.3,451.9 L534.7,451.9 L536.0,452.0 L537.3,452.0 L538.7,452.0 L540.0,452.0 L541.3,452.0 L542.7,452.0 L544.0,452.0 L545.3,452.1 L546.7,452.1 L548.0,452.1 L549.3,452.1 L550.7,452.1 L552.0,452.1 L553.3,452.1 L554.7,452.1 L556.0,452.2 L557.3,452.2 L558.7,452.2 L560.0,452.2 L561.3,452.2 L562.7,452.2 L564.0,452.2 L565.3,452.1 L566.7,452.1 L568.0,452.1 L569.3,452.1 L570.7,452.1 L572.0,452.1 L573.3,452.1 L574.7,452.1 L576.0,452.0 L577.3,452.0 L578.7,452.0 L580.0,452.0 L581.3,452.0 L582.7,452.0 L584.0,452.0 L585.3,451.9 L586.7,451.9 L588.0,451.9 L589.3,451.9 L590.7,451.9 L592.0,451.9 L593.3,451.9 L594.7,451.9 L596.0,451.8 L597.3,451.8 L598.7,451.8 L600.0,451.8 L601.3,451.8 L602.7,451.8 L604.0,451.8 L605.3,451.7 L606.7,451.7 L608.0,451.7 L609.3,451.7 L610.7,451.7 L612.0,451.7 L613.3,451.6 L614.7,451.6 L616.0,451.6 L617.3,451.6 L618.7,451.6 L620.0,451.6 L621.3,451.5 L622.7,451.5 L624.0,451.5 L625.3,451.5 L626.7,451.5 L628.0,451.4 L629.3,451.4 L630.7,451.4 L632.0,451.4 L633.3,451.4 L634.7,451.4 L636.0,451.4 L637.3,451.3 L638.7,451.3 L640.0,451.3 L641.3,451.3 L642.7,451.2 L644.0,451.2 L645.3,451.2 L646.7,451.1 L648.0,451.1 L649.3,451.1 L650.7,451.1 L652.0,451.0 L653.3,451.0 L654.7,451.0 L656.0,450.9 L657.3,450.9 L658.7,450.9 L660.0,450.9 L661.3,450.8 L662.7,450.8 L664.0,450.8 L665.3,450.7 L666.7,450.7 L668.0,450.7 L669.3,450.6 L670.7,450.6 L672.0,450.6 L673.3,450.5 L674.7,450.5 L676.0,450.5 L677.3,450.5 L678.7,450.4 L680.0,450.4 L681.4,450.2 L682.8,450.0 L684.1,449.8 L685.5,449.6 L686.9,449.5 L688.2,449.3 L689.6,449.1 L691.0,448.8 L692.7,448.8 L694.3,449.4 L696.0,448.0 L697.5,446.1 L699.0,444.3 L700.6,441.9 L702.2,441.3 L703.8,440.2 L705.4,439.2 L707.0,437.2 L708.5,437.3 L710.1,436.4 L711.7,437.7 L713.3,436.9 L714.9,434.8 L716.5,436.6 L718.1,437.3 L719.6,437.4 L721.2,438.1 L722.8,438.9 L724.4,440.5 L726.0,442.3 L727.6,441.7 L729.2,442.6 L730.8,443.6 L732.3,444.1 L733.9,443.7 L735.5,442.2 L737.1,441.7 L738.7,440.5 L740.2,440.4 L741.8,439.7 L743.4,439.7 L745.0,438.2 L746.6,436.7 L748.2,437.4 L749.8,436.9 L751.3,435.9 L752.9,435.1 L754.5,435.0 L756.1,435.6 L757.7,436.5 L759.3,436.7 L760.9,439.2 L762.5,439.1 L764.1,440.5 L765.6,439.8 L767.2,441.6 L768.8,441.7 L770.4,439.6 L772.0,440.0 L773.5,441.5 L775.1,440.3 L776.7,441.9 L778.3,440.8 L779.9,440.4 L781.5,442.0 L782.9,442.7 L784.2,441.8 L785.6,441.7 L786.9,442.7 L788.3,444.5 L789.6,444.4 L791.0,443.2 L792.6,444.5 L794.2,445.2 L795.8,445.4 L797.4,447.5 L798.9,446.3 L800.5,447.4 L801.9,447.3 L803.4,446.7 L804.8,448.1 L806.2,446.7 L807.6,448.0 L809.1,446.9 L810.5,447.7 L811.9,447.3 L813.4,447.5 L814.8,449.2 L816.2,448.9 L817.6,447.7 L819.0,449.1 L820.3,447.6 L821.7,448.0 L823.1,449.2 L824.5,448.7 L825.9,447.4 L827.5,449.3 L829.0,447.2 L830.6,447.0 L832.2,448.0 L833.8,446.7 L835.4,446.4 L837.0,445.7 L838.6,445.5 L840.0,446.5 L841.5,445.6 L842.9,446.3 L844.3,445.5 L845.7,445.6 L847.1,446.6 L848.6,445.3 L850.0,445.4 L851.4,446.1 L852.8,444.4 L854.2,444.3 L855.6,446.1 L857.0,445.9 L858.4,444.5 L859.8,444.4 L861.2,445.7 L862.6,446.2 L864.0,444.4 L865.4,446.2 L866.8,445.9 L868.2,445.2 L869.6,444.7 L871.0,443.8 L872.4,443.6 L873.8,445.7 L875.2,443.9 L876.6,444.9 L878.0,443.8 L879.4,445.1 L880.8,444.4 L882.1,443.3 L883.4,442.7 L884.7,443.6 L886.1,441.7 L887.4,441.7 L888.7,442.1 L890.0,442.4 L891.4,441.6 L892.7,440.5 L894.0,441.7 L895.4,439.7 L896.8,438.9 L898.1,439.2 L899.4,439.4 L900.8,438.1 L902.3,437.1 L903.9,436.2 L905.5,435.4 L907.0,433.0 L908.5,433.4 L910.0,434.5 L911.6,434.6 L913.1,433.6 L914.6,433.6 L915.9,433.3 L917.3,432.2 L918.6,432.0 L919.9,431.9 L921.2,434.1 L922.6,433.6 L923.9,434.2 L925.2,432.2 L926.5,433.9 L927.8,433.7 L929.2,434.5 L930.5,433.7 L931.8,435.6 L933.1,433.6 L934.4,434.8 L935.8,435.4 L937.1,435.9 L938.4,435.6 L939.7,435.7 L941.1,436.0 L942.4,436.4 L943.9,434.6 L945.4,434.9 L947.0,435.0 L948.5,434.5 L950.0,432.9 L951.5,430.7 L953.1,427.8 L954.6,425.9 L956.2,424.9 L957.8,423.2 L959.3,422.5 L960.8,422.7 L962.4,421.6 L963.9,423.1 L965.5,424.1 L967.0,424.0 L968.5,424.4 L970.0,424.4 L971.6,426.0 L973.1,426.4 L974.7,426.8 L976.2,428.5 L977.8,427.5 L979.3,427.6 L980.8,424.3 L982.3,424.7 L983.9,423.4 L985.5,421.8 L987.0,422.0 L988.5,421.1 L990.0,421.0 L991.6,421.4 L993.1,419.4 L994.7,418.1 L996.2,418.0 L997.8,418.1 L999.3,416.8 L1000.8,416.5 L1002.4,418.1 L1003.9,417.3 L1005.2,417.6 L1006.5,418.5 L1006.5,453.0 L8.0,453.0 Z" fill="#f0f2f5"/>
<g class="nl"><text x="104.3" y="470">2012</text><text x="236.2" y="470">2014</text><text x="368.1" y="470">2016</text><text x="500.0" y="470">2018</text><text x="631.9" y="470">2020</text><text x="763.8" y="470">2022</text><text x="895.7" y="470">2024</text></g>
<rect x="999" y="424.5" width="13.5" height="18" rx="6" fill="#fff" filter="url(#sh)"/>
<line x1="1004.5" y1="430" x2="1004.5" y2="436.5" stroke="#7d8594" stroke-width="1"/>
<line x1="1007.5" y1="430" x2="1007.5" y2="436.5" stroke="#7d8594" stroke-width="1"/>
<!-- history badge -->
<path d="M20,384 L47,384 A12,12 0 0 1 47,408 L20,408 C17,408 15,406 13,403 L8,396 L13,389 C15,386 17,384 20,384 Z" fill="#a6b0c3"/>
<g fill="none" stroke="#fff" stroke-width="1.3" stroke-linecap="round">
<path d="M19.07,393.94 A5,5 0 1 1 20.02,398.61"/>
<path d="M23.2,392.2 L24.5,396 L26.8,397.4"/>
</g>
<path d="M17.2,392.6 L20.6,393.2 L18.2,395.9 Z" fill="#fff"/>
<text x="34" y="400" font-size="11" fill="#fff">123</text>
<!-- analyze -->
<path d="M931,385 L958.5,385 L962.5,381 L966.5,385 L993,385 A11.75,11.75 0 0 1 993,408.5 L931,408.5 A11.75,11.75 0 0 1 931,385 Z" fill="#3a60f3"/>
<path d="M928.7,400.9 A5.8,5.8 0 1 1 930.8,402.25 L927.3,403.6 Z" fill="none" stroke="#fff" stroke-width="1.3" stroke-linejoin="round"/>
<path d="M929.3,399.4 L931.7,394.9 L933.3,398.3 L935.1,394.8 L936.8,397.8" fill="none" stroke="#fff" stroke-width="1.4" stroke-linejoin="round" stroke-linecap="round"/>
<text x="943" y="401" font-size="11" font-weight="bold" fill="#fff">Analyze</text>
<path d="M990,393.6 L993.6,397.4 L990,401.2" fill="none" stroke="#fff" stroke-width="1.3"/>
</svg>
</body></html>
